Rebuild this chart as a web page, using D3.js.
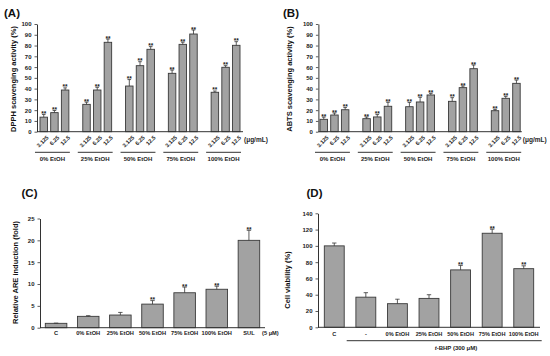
<!DOCTYPE html>
<html><head><meta charset="utf-8">
<script src="https://cdn.jsdelivr.net/npm/d3@7/dist/d3.min.js"></script>
<style>
html,body{margin:0;padding:0;background:#fff;}
svg{display:block;}
</style></head>
<body>
<svg id="chart" width="550" height="356"></svg>
<script>
// ---------------- DATA ----------------
const concLabels = ["3.125", "6.25", "12.5"];
const extractGroups = ["0% EtOH", "25% EtOH", "50% EtOH", "75% EtOH", "100% EtOH"];
const dpphValues = [[13.5, 17.7, 38.7], [25.4, 38.7, 83.0], [42.4, 61.3, 76.5], [54.2, 81.1, 90.7], [36.6, 59.8, 80.2]];
const dpphErrors = [[2.5, 2.0, 2.0], [2.0, 2.5, 3.0], [6.0, 3.7, 2.5], [3.0, 2.0, 3.7], [1.2, 1.5, 3.4]];
const abtsValues = [[11.5, 15.5, 20.4], [12.1, 13.7, 23.6], [23.2, 27.6, 34.1], [28.2, 40.9, 58.5], [19.5, 31.0, 44.9]];
const abtsErrors = [[2.0, 1.8, 2.0], [1.5, 2.2, 3.7], [4.0, 4.3, 1.5], [3.4, 1.5, 3.4], [1.2, 1.8, 3.0]];
const yTicksAB = [0, 10, 20, 30, 40, 50, 60, 70, 80, 90, 100];

const areCategories = ["C", "0% EtOH", "25% EtOH", "50% EtOH", "75% EtOH", "100% EtOH", "SUL"];
const areValues = [1.0, 2.6, 2.9, 5.4, 8.0, 8.8, 20.0];
const areErrors = [0.05, 0.15, 0.6, 0.8, 1.3, 0.7, 2.3];
const areSignificant = [false, false, false, true, true, true, true];
const yTicksC = [0, 5, 10, 15, 20, 25];

const viabCategories = ["C", "-", "0% EtOH", "25% EtOH", "50% EtOH", "75% EtOH", "100% EtOH"];
const viabValues = [100, 37, 29, 35.5, 70.5, 115.5, 72];
const viabErrors = [3.5, 5.5, 5.5, 4.5, 5.5, 5.0, 3.5];
const viabSignificant = [false, false, false, false, true, true, true];
const yTicksD = [0, 20, 40, 60, 80, 100, 120, 140];

// ---------------- STYLE ----------------
const FONT = "'Liberation Sans', Arial, Helvetica, sans-serif";
const BAR_FILL = "#a2a2a2";
const BAR_STROKE = "#3a3a3a";
const INK = "#333";

const svg = d3.select("#chart").attr("font-family", FONT);

function yAxis(g, y, x0, ticks) {
  const ax = g.append("g").attr("transform", `translate(${x0},0)`)
    .call(d3.axisLeft(y).tickValues(ticks).tickSize(2.5).tickSizeOuter(0).tickPadding(3));
  ax.select(".domain").attr("stroke", INK).attr("stroke-width", 1);
  ax.selectAll(".tick line").attr("stroke", INK).attr("stroke-width", 0.8);
  ax.selectAll(".tick text").attr("font-size", 6).attr("font-weight", "bold")
    .attr("font-family", FONT).attr("fill", "#222");
}

function bars(g, data, x, y, opts) {
  const bw = x.bandwidth();
  const sel = g.append("g").selectAll("g.bar").data(data).join("g");
  sel.append("rect")
    .attr("x", d => x(d.key)).attr("width", bw)
    .attr("y", d => y(d.v)).attr("height", d => y(0) - y(d.v))
    .attr("fill", BAR_FILL).attr("stroke", BAR_STROKE).attr("stroke-width", 0.9);
  const cap = opts.cap;
  sel.append("line")
    .attr("x1", d => x(d.key) + bw / 2).attr("x2", d => x(d.key) + bw / 2)
    .attr("y1", d => y(d.v)).attr("y2", d => y(d.v + d.e))
    .attr("stroke", INK).attr("stroke-width", 0.8);
  sel.append("line")
    .attr("x1", d => x(d.key) + bw / 2 - cap).attr("x2", d => x(d.key) + bw / 2 + cap)
    .attr("y1", d => y(d.v + d.e)).attr("y2", d => y(d.v + d.e))
    .attr("stroke", INK).attr("stroke-width", 0.8);
  sel.filter(d => d.sig).append("text")
    .attr("x", d => x(d.key) + bw / 2).attr("y", d => y(d.v + d.e) + 1.5)
    .attr("text-anchor", "middle").attr("font-size", 6.5).attr("font-weight", "bold")
    .attr("fill", "#222").text("**");
}

function panelLabel(text, x, y) {
  svg.append("text").attr("x", x).attr("y", y).attr("font-size", 11.5)
    .attr("font-weight", "bold").attr("fill", "#111").text(text);
}

function yTitle(text, cx, cy) {
  svg.append("text").attr("transform", `translate(${cx},${cy}) rotate(-90)`)
    .attr("text-anchor", "middle").attr("font-size", 7.5).attr("font-weight", "bold")
    .attr("fill", "#111").text(text);
}

// ---------------- PANELS A & B ----------------
function groupedPanel(values, errors, xr, pOuter, label, labelPos, title, titleX) {
  const keys = [];
  extractGroups.forEach((gname, gi) => {
    concLabels.forEach((c, ci) => keys.push(gi + "-" + ci));
    if (gi < extractGroups.length - 1) keys.push(gi + "-gap");
  });
  const x = d3.scaleBand().domain(keys).range(xr).paddingInner(0.3).paddingOuter(pOuter);
  const y = d3.scaleLinear().domain([0, 100]).range([131.7, 24]);
  const g = svg.append("g");
  const data = [];
  values.forEach((row, gi) => row.forEach((v, ci) =>
    data.push({ key: gi + "-" + ci, v: v, e: errors[gi][ci], sig: true, gi: gi, ci: ci })));
  bars(g, data, x, y, { cap: 1.8 });
  yAxis(g, y, xr[0], yTicksAB);
  g.append("line").attr("x1", xr[0]).attr("x2", xr[1]).attr("y1", y(0)).attr("y2", y(0))
    .attr("stroke", INK).attr("stroke-width", 1);
  // rotated concentration labels
  g.selectAll("text.conc").data(data).join("text")
    .attr("transform", d => `translate(${x(d.key) + x.bandwidth() / 2 + 2.5},${y(0) + 3.5}) rotate(-45)`)
    .attr("text-anchor", "end").attr("dy", "0.7em").attr("font-size", 5.6).attr("font-weight", "bold")
    .attr("fill", "#222").text(d => concLabels[d.ci]);
  // group underline + labels
  extractGroups.forEach((gname, gi) => {
    const xa = x(gi + "-0") - 5, xb = x(gi + "-2") + x.bandwidth() + 1;
    g.append("line").attr("x1", xa).attr("x2", xb).attr("y1", 152.3).attr("y2", 152.3)
      .attr("stroke", INK).attr("stroke-width", 1);
    g.append("text").attr("x", (xa + xb) / 2).attr("y", 160.5).attr("text-anchor", "middle")
      .attr("font-size", 6).attr("font-weight", "bold").attr("fill", "#222").text(gname);
  });
  g.append("text").attr("x", xr[1] + 1).attr("y", 142).attr("font-size", 6.5)
    .attr("font-weight", "bold").attr("fill", "#222").text("(μg/mL)");
  yTitle(label, labelPos[0], labelPos[1]);
  panelLabel(title, titleX, 17);
}

groupedPanel(dpphValues, dpphErrors, [37, 243], 0.28, "DPPH scavenging activity (%)", [15.6, 79], "(A)", 4);
groupedPanel(abtsValues, abtsErrors, [318.4, 521.8], 0.15, "ABTS scavenging activity (%)", [291.6, 79], "(B)", 283);

// ---------------- PANEL C ----------------
(function () {
  const x = d3.scaleBand().domain(areCategories).range([40, 265]).paddingInner(0.33).paddingOuter(0.165);
  const y = d3.scaleLinear().domain([0, 25]).range([327.7, 218.5]);
  const g = svg.append("g");
  const data = areCategories.map((c, i) => ({ key: c, v: areValues[i], e: areErrors[i], sig: areSignificant[i] }));
  bars(g, data, x, y, { cap: 2.2 });
  yAxis(g, y, 40, yTicksC);
  g.append("line").attr("x1", 40).attr("x2", 265).attr("y1", y(0)).attr("y2", y(0))
    .attr("stroke", INK).attr("stroke-width", 1);
  g.selectAll("text.cat").data(areCategories).join("text")
    .attr("x", d => x(d) + x.bandwidth() / 2).attr("y", 335.3).attr("text-anchor", "middle")
    .attr("font-size", 5.7).attr("font-weight", "bold").attr("fill", "#222").text(d => d);
  g.append("text").attr("x", 262).attr("y", 335.3).attr("font-size", 5.7)
    .attr("font-weight", "bold").attr("fill", "#222").text("(5 μM)");
  yTitle("Relative ARE  induction (fold)", 17.6, 272.5);
  panelLabel("(C)", 21.5, 196.5);
})();

// ---------------- PANEL D ----------------
(function () {
  const x = d3.scaleBand().domain(viabCategories).range([318, 540]).paddingInner(0.37).paddingOuter(0.2);
  const y = d3.scaleLinear().domain([0, 140]).range([327.3, 213.3]);
  const g = svg.append("g");
  const data = viabCategories.map((c, i) => ({ key: c, v: viabValues[i], e: viabErrors[i], sig: viabSignificant[i] }));
  bars(g, data, x, y, { cap: 2.2 });
  yAxis(g, y, 318, yTicksD);
  g.append("line").attr("x1", 318).attr("x2", 540).attr("y1", y(0)).attr("y2", y(0))
    .attr("stroke", INK).attr("stroke-width", 1);
  g.selectAll("text.cat").data(viabCategories).join("text")
    .attr("x", d => x(d) + x.bandwidth() / 2).attr("y", 336.3).attr("text-anchor", "middle")
    .attr("font-size", 5.6).attr("font-weight", "bold").attr("fill", "#222").text(d => d);
  g.append("line").attr("x1", 346.7).attr("x2", 541.7).attr("y1", 340.7).attr("y2", 340.7)
    .attr("stroke", INK).attr("stroke-width", 1);
  const t = g.append("text").attr("x", 456).attr("y", 349.6).attr("text-anchor", "middle")
    .attr("font-size", 6).attr("font-weight", "bold").attr("fill", "#222");
  t.append("tspan").attr("font-style", "italic").text("t");
  t.append("tspan").text("-BHP (300 μM)");
  yTitle("Cell viability (%)", 289.6, 280);
  panelLabel("(D)", 306.5, 196.5);
})();
</script>
</body></html>
